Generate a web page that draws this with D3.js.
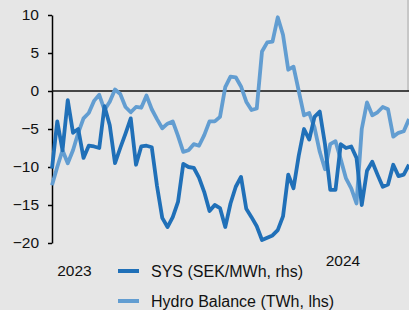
<!DOCTYPE html>
<html>
<head>
<meta charset="utf-8">
<script src="https://cdn.jsdelivr.net/npm/d3@7"></script>
<style>
  html, body { margin: 0; padding: 0; background: #e6e6e6; }
  svg { display: block; font-family: Arial, "Liberation Sans", sans-serif; }
</style>
</head>
<body>
<div class="chart"></div>
<script>
// weekly series
var sysValues = [
  -10.2, -4.0, -7.8, -1.2, -5.5, -5.0, -8.8, -7.2, -7.3, -7.5,
  -2.0, -4.5, -9.5, -7.5, -5.6, -3.6, -9.7, -7.3, -7.2, -7.4,
  -12.5, -16.7, -17.9, -16.6, -14.6, -9.6, -10.0, -10.1, -11.4, -13.3,
  -15.8, -15.0, -15.4, -17.9, -14.8, -12.6, -11.3, -15.5, -16.6, -17.8,
  -19.6, -19.3, -19.0, -18.3, -16.5, -11.0, -12.8, -8.5, -5.0, -6.4,
  -3.4, -2.7, -7.0, -13.0, -13.0, -7.0, -7.5, -7.3, -8.8, -15.0,
  -10.5, -9.3, -11.0, -12.6, -12.3, -9.7, -11.2, -11.0, -9.7
];

var hydroValues = [
  -12.4, -10.0, -7.8, -9.5, -7.8, -5.5, -3.6, -2.9, -1.3, -0.5,
  -2.5, -1.4, 0.2, -0.4, -2.1, -2.8, -2.1, -2.2, -0.6, -2.4,
  -3.7, -4.9, -4.3, -4.0, -5.9, -8.0, -7.8, -7.0, -7.2, -5.8,
  -4.0, -4.0, -3.4, 0.5, 1.9, 1.8, 0.6, -1.4, -2.5, -2.3,
  5.2, 6.4, 6.5, 9.7, 7.4, 2.8, 3.2, 0.0, -3.2, -2.9,
  -4.8, -8.0, -10.3, -7.0, -6.6, -9.0, -11.5, -12.8, -14.8, -5.0,
  -1.5, -3.2, -2.8, -2.1, -2.4, -6.0, -5.5, -5.3, -3.7
];

var firstWeek = new Date(2022, 11, 12);
var weeks = sysValues.map((d, i) => d3.timeWeek.offset(firstWeek, i));

var yTicks = [10, 5, 0, -5, -10, -15, -20];
var yearLabels = ["2023", "2024"];
var yearDates = [new Date(2023, 0, 11), new Date(2024, 0, 4)];
var yearBaselines = [276, 266];

var seriesNames = ["SYS (SEK/MWh, rhs)", "Hydro Balance (TWh, lhs)"];
var seriesColors = ["#2070b8", "#629dd1"];

var svgWidth = 409;
var svgHeight = 310;

var svg = d3.select(".chart")
  .append("svg")
  .attr("width", svgWidth)
  .attr("height", svgHeight);

svg.append("rect")
  .attr("width", svgWidth)
  .attr("height", svgHeight)
  .attr("fill", "#e6e6e6");

var xScale = d3.scaleTime()
  .domain([weeks[0], weeks[weeks.length - 1]])
  .range([52, 409]);

var yScale = d3.scaleLinear()
  .domain([-20, 10])
  .range([243, 15]);

// right edge (cut off axis)
svg.append("line")
  .attr("x1", 408).attr("x2", 408)
  .attr("y1", 0).attr("y2", yScale(0))
  .attr("stroke", "#a8a8a8")
  .attr("stroke-width", 1);

// y axis
var leftAxis = d3.axisLeft(yScale)
  .tickValues(yTicks)
  .tickSize(4)
  .tickSizeOuter(0)
  .tickPadding(9);

var yAxis = svg.append("g")
  .attr("transform", "translate(52,0)")
  .call(leftAxis);

yAxis.select(".domain").attr("stroke", "#000").attr("stroke-width", 1.5);
yAxis.selectAll(".tick line").attr("stroke", "#000").attr("stroke-width", 1.5);
yAxis.selectAll(".tick text")
  .attr("font-size", 15.5)
  .attr("fill", "#111");

// zero line
svg.append("line")
  .attr("x1", 52).attr("x2", 409)
  .attr("y1", yScale(0)).attr("y2", yScale(0))
  .attr("stroke", "#111")
  .attr("stroke-width", 1.6);

var line = d3.line()
  .x((d, i) => xScale(weeks[i]))
  .y(d => yScale(d));

svg.append("path")
  .datum(hydroValues)
  .attr("d", line)
  .attr("fill", "none")
  .attr("stroke", seriesColors[1])
  .attr("stroke-width", 3.8)
  .attr("stroke-linejoin", "round");

svg.append("path")
  .datum(sysValues)
  .attr("d", line)
  .attr("fill", "none")
  .attr("stroke", seriesColors[0])
  .attr("stroke-width", 3.8)
  .attr("stroke-linejoin", "round");

// year labels
svg.selectAll(".year")
  .data(yearLabels)
  .enter()
  .append("text")
  .attr("class", "year")
  .attr("x", (d, i) => xScale(yearDates[i]))
  .attr("y", (d, i) => yearBaselines[i])
  .attr("text-anchor", "middle")
  .attr("font-size", 15.5)
  .attr("fill", "#111")
  .text(d => d);

// legend
var legend = svg.selectAll(".legend")
  .data(seriesNames)
  .enter()
  .append("g")
  .attr("class", "legend")
  .attr("transform", (d, i) => `translate(118, ${271 + i * 30})`);

legend.append("line")
  .attr("x1", 0).attr("x2", 21)
  .attr("y1", 0).attr("y2", 0)
  .attr("stroke", (d, i) => seriesColors[i])
  .attr("stroke-width", 4);

legend.append("text")
  .attr("x", 33)
  .attr("y", 6)
  .attr("font-size", 16)
  .attr("fill", "#111")
  .text(d => d);
</script>
</body>
</html>
